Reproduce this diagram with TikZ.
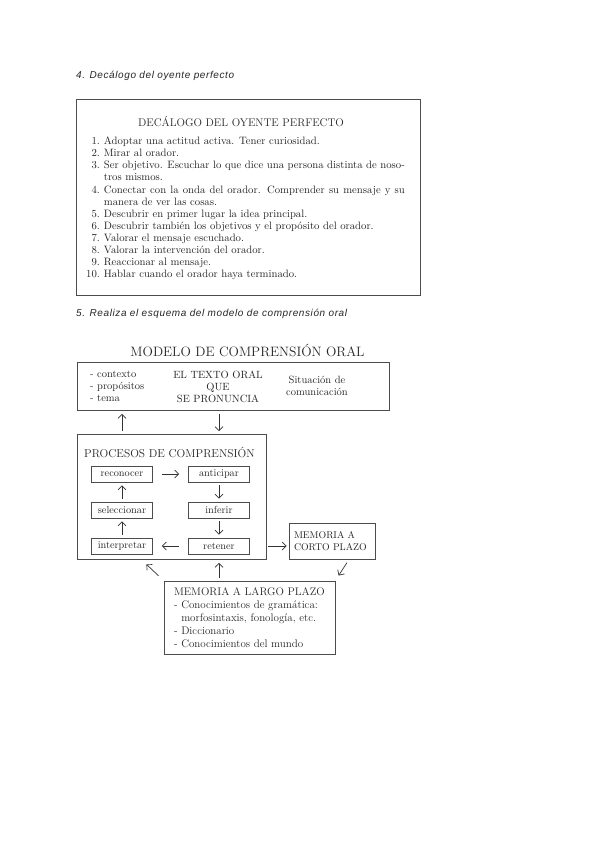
\documentclass[tikz,border=0pt]{standalone}
\usepackage{fontspec}
\newfontfamily\headfont{Liberation Sans}[LetterSpace=6]
\usetikzlibrary{arrows.meta, positioning, calc}

\begin{document}
\begin{tikzpicture}[x=1pt, y=-1pt, >={Straight Barb[length=4pt, width=8pt]},
  every node/.append style={text=black!85},
  heading/.style={anchor=west, inner sep=0pt, font=\headfont\itshape\fontsize{10}{12}\selectfont},
  frame/.style={draw=black!70, line width=0.8pt, inner sep=0pt},
  proc/.style={draw=black!70, line width=0.7pt, minimum width=61pt, minimum height=16pt, inner sep=0pt, font=\fontsize{10.3}{11}\selectfont},
  txt/.style={font=\fontsize{10.5}{12}\selectfont, align=left, inner sep=0pt},
  arrow/.style={->, line width=0.7pt, black!80, shorten <=3pt, shorten >=3pt}
]
\fill[white] (0,0) rectangle (600,848);
\useasboundingbox (0,0) rectangle (600,848);

% Decalogo
\node[heading] (h4) at (76,76) {4. Decálogo del oyente perfecto};
\node[frame, minimum width=344pt, minimum height=196pt] (deca) at (248,197.5) {};
\node[font=\fontsize{11.1}{13}\selectfont] (dtitle) at (241,122) {DECÁLOGO DEL OYENTE PERFECTO};
\node[anchor=north west, inner sep=0pt, font=\fontsize{10.7}{12.1}\selectfont] (dlist) at (86,136) {%
  \begin{tabular}{@{}r@{\hspace{4pt}}l@{}}
  1. & Adoptar una actitud activa. Tener curiosidad.\\
  2. & Mirar al orador.\\
  3. & \makebox[301pt][s]{Ser objetivo. Escuchar lo que dice una persona distinta de noso-}\\
     & tros mismos.\\
  4. & \makebox[301pt][s]{Conectar con la onda del orador. Comprender su mensaje y su}\\
     & manera de ver las cosas.\\
  5. & Descubrir en primer lugar la idea principal.\\
  6. & Descubrir también los objetivos y el propósito del orador.\\
  7. & Valorar el mensaje escuchado.\\
  8. & Valorar la intervención del orador.\\
  9. & Reaccionar al mensaje.\\
  10. & Hablar cuando el orador haya terminado.
  \end{tabular}};

% Modelo
\node[heading] (h5) at (76,314) {5. Realiza el esquema del modelo de comprensión oral};
\node[font=\fontsize{13.6}{15}\selectfont] (mtitle) at (247.5,350) {MODELO DE COMPRENSIÓN ORAL};
\node[frame, minimum width=312pt, minimum height=48pt] (top) at (233,386.5) {};
\node[txt, anchor=west] (ctx) at (90,386.5) {- contexto\\- propósitos\\- tema};
\node[txt, align=center] (texto) at (218,386.5) {EL TEXTO ORAL\\QUE\\SE PRONUNCIA};
\node[txt, align=center] (situ) at (317,386) {Situación de\\comunicación};

\node[frame, minimum width=189pt, minimum height=125pt] (procs) at (171.5,497) {};
\node[anchor=west, inner sep=0pt, font=\fontsize{11.4}{13}\selectfont] (ptitle) at (84,452) {PROCESOS DE COMPRENSIÓN};
\node[proc] (reconocer) at (122,474) {reconocer};
\node[proc] (anticipar) at (219,474) {anticipar};
\node[proc] (seleccionar) at (122,510) {seleccionar};
\node[proc] (inferir) at (219,510) {inferir};
\node[proc] (interpretar) at (122,546) {interpretar};
\node[proc] (retener) at (219,546) {retener};

\node[frame, txt, minimum width=86pt, minimum height=36pt, text width=76pt,
      font=\fontsize{9.8}{11.5}\selectfont] (corto) at (332,541) {MEMORIA A\\CORTO PLAZO};
\node[frame, txt, minimum width=171pt, minimum height=73pt, text width=151pt,
      font=\fontsize{11}{13}\selectfont] (largo) at (249.5,617.5)
  {MEMORIA A LARGO PLAZO\\- Conocimientos de gramática:\\\hphantom{- }morfosintaxis, fonología, etc.\\- Diccionario\\- Conocimientos del mundo};

% Flechas
\draw[arrow] (procs.north -| reconocer) -- (top.south -| reconocer);
\draw[arrow] (top.south -| anticipar) -- (procs.north -| anticipar);
\draw[arrow, shorten <=9pt, shorten >=9pt] (reconocer) -- (anticipar);
\draw[arrow] (anticipar) -- (inferir);
\draw[arrow] (inferir) -- (retener);
\draw[arrow, shorten <=9pt, shorten >=9pt] (retener) -- (interpretar);
\draw[arrow] (interpretar) -- (seleccionar);
\draw[arrow] (seleccionar) -- (reconocer);
\draw[arrow, shorten <=2pt, shorten >=2pt] (procs.east |- retener) -- (corto.west |- retener);
\draw[arrow] (largo.north -| retener) -- (procs.south -| retener);
\coordinate (nwtip) at (145,563);
\coordinate (swtail) at (348,561);
\draw[arrow, shorten <=7pt, shorten >=2pt] (largo.north west) -- (nwtip);
\draw[arrow, shorten <=2pt, shorten >=6pt] (swtail) -- (largo.north east);
\end{tikzpicture}
\end{document}
